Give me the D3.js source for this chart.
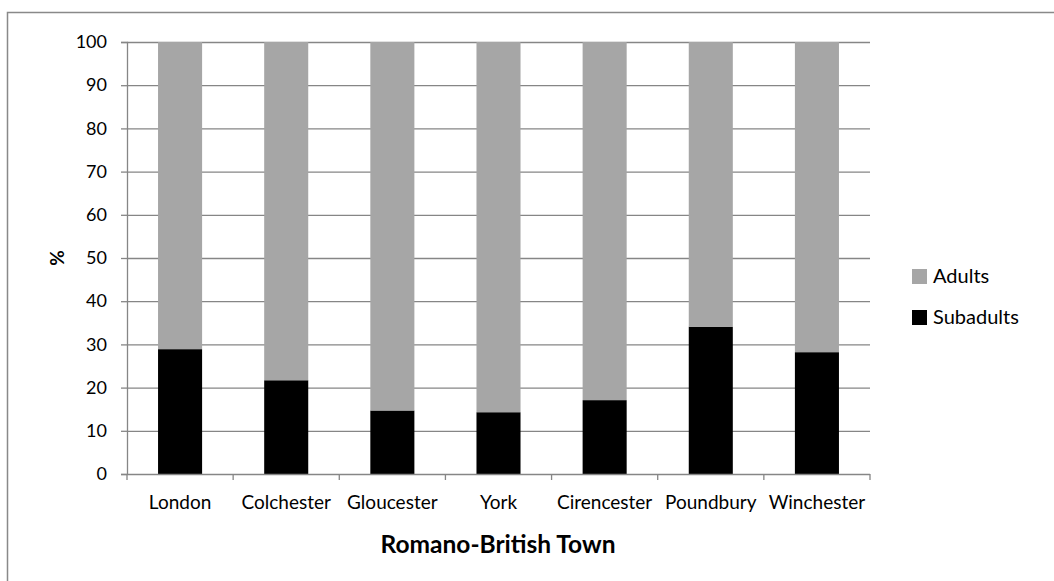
<!DOCTYPE html>
<html><head><meta charset="utf-8">
<script src="https://cdn.jsdelivr.net/npm/d3@7"></script>
<style>body{margin:0;background:#fff}svg{display:block}text{font-family:Lato,"Open Sans",sans-serif}</style>
</head><body><svg width="1054" height="581"></svg>
<script>
const categories = ["London","Colchester","Gloucester","York","Cirencester","Poundbury","Winchester"];
const subadults = [28.9, 21.7, 14.7, 14.3, 17.1, 34.1, 28.2];
const adults = subadults.map(v => 100 - v);
const yTicks = [0,10,20,30,40,50,60,70,80,90,100];
const seriesNames = ["Adults","Subadults"];
const colors = {Adults:"#A6A6A6", Subadults:"#000000"};

const svg = d3.select("svg");
const L=127, R=870, T=42, B=474;
svg.append("rect").attr("x",7.5).attr("y",12.5).attr("width",1100).attr("height",700)
  .attr("fill","none").attr("stroke","#898989").attr("stroke-width",1.5);

const x = d3.scaleBand().domain(categories).range([L,R]).paddingInner(0.585).paddingOuter(0.2925);
const y = d3.scaleLinear().domain([0,100]).range([B,T]);

svg.append("g").selectAll("line").data(yTicks.filter(d=>d>0)).join("line")
  .attr("x1",L).attr("x2",R).attr("y1",d=>y(d)+0.5).attr("y2",d=>y(d)+0.5)
  .attr("stroke","#868686").attr("stroke-width",1.3);

const data = categories.map((c,i)=>({cat:c, Subadults:subadults[i], Adults:adults[i]}));
const stack = d3.stack().keys(["Subadults","Adults"])(data);
svg.append("g").selectAll("g").data(stack).join("g").attr("fill",d=>colors[d.key])
  .selectAll("rect").data(d=>d).join("rect")
  .attr("x",d=>x(d.data.cat)).attr("width",x.bandwidth())
  .attr("y",d=>y(d[1])).attr("height",d=>y(d[0])-y(d[1]));

const ya = svg.append("g").attr("transform",`translate(${L},0)`)
  .call(d3.axisLeft(y).tickValues(yTicks).tickSize(6).tickPadding(14));
ya.select(".domain").attr("stroke","#868686").attr("stroke-width",1.3).attr("d",`M-6,${T+0.5}H0.5V${B+0.5}`);
ya.selectAll(".tick line").attr("stroke","#868686").attr("stroke-width",1.3);
ya.selectAll(".tick").attr("transform",d=>`translate(0,${y(d)+0.5})`);
ya.selectAll("text").attr("font-size",18).attr("fill","#000").attr("font-family","Lato");

const xa = svg.append("g");
xa.append("line").attr("x1",L-6).attr("x2",R).attr("y1",B+0.5).attr("y2",B+0.5).attr("stroke","#868686").attr("stroke-width",1.3);
const bounds = d3.range(categories.length+1).map(i=>L+i*x.step());
xa.selectAll(".tk").data(bounds).join("line").attr("class","tk")
  .attr("x1",d=>d).attr("x2",d=>d).attr("y1",B).attr("y2",B+6)
  .attr("stroke","#868686").attr("stroke-width",1.3);
xa.selectAll("text").data(categories).join("text")
  .attr("x",d=>x(d)+x.bandwidth()/2).attr("y",509).attr("text-anchor","middle")
  .attr("font-size",19).text(d=>d);

svg.append("text").attr("x",498).attr("y",553).attr("text-anchor","middle")
  .attr("font-size",24.5).attr("font-weight","bold").text("Romano-British Town");
svg.append("text").attr("transform","translate(64,258) rotate(-90)").attr("text-anchor","middle")
  .attr("font-size",19).attr("font-weight","bold").text("%");

const lg = svg.append("g").selectAll("g").data(seriesNames).join("g")
  .attr("transform",(d,i)=>`translate(912,${269+i*41})`);
lg.append("rect").attr("width",15).attr("height",15).attr("fill",d=>colors[d]);
lg.append("text").attr("x",21).attr("y",14).attr("font-size",20).text(d=>d);
</script></body></html>
